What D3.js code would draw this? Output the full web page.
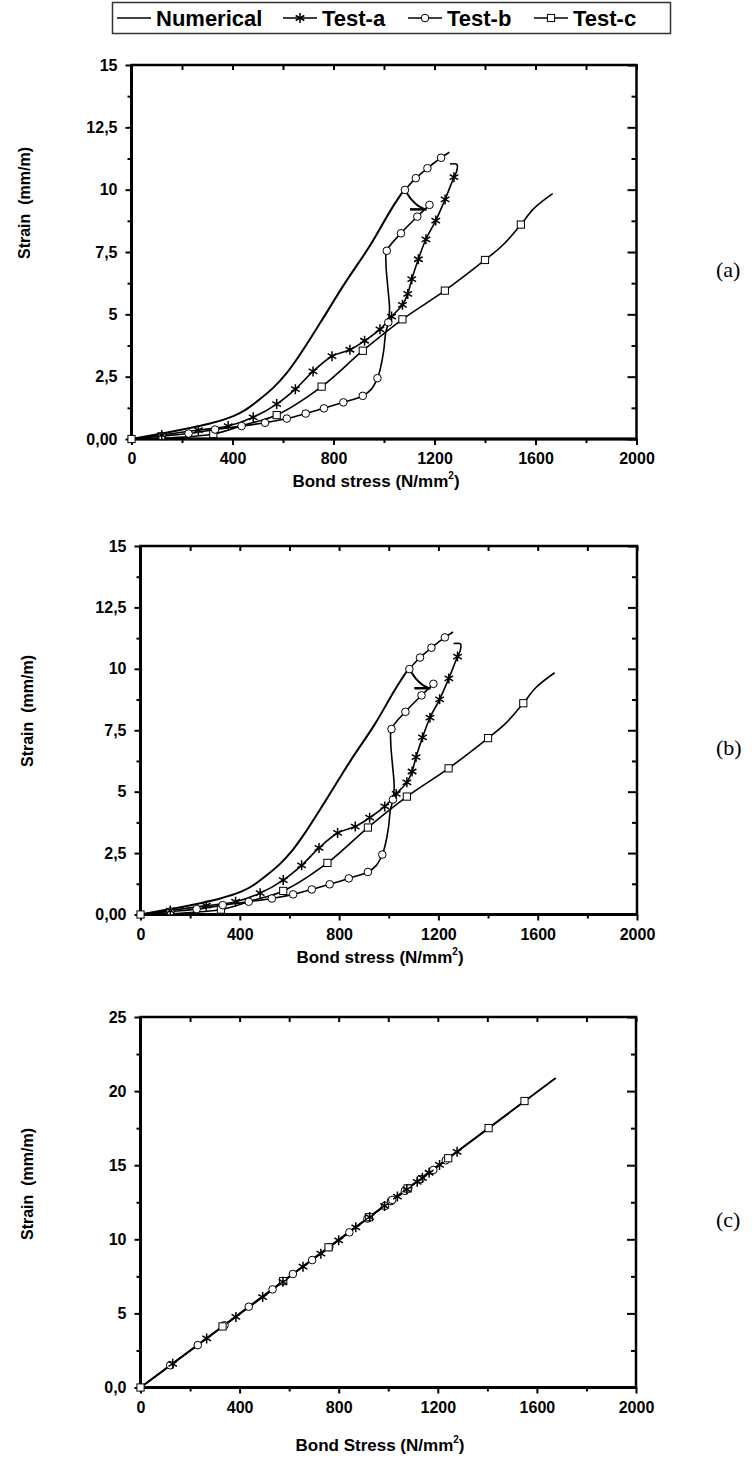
<!DOCTYPE html>
<html><head><meta charset="utf-8">
<script src="https://cdn.jsdelivr.net/npm/d3@7"></script>
<style>body{margin:0;background:#fff}</style>
</head><body>
<svg id="chart" width="755" height="1459"></svg>
<script>
// ---------- tick data ----------
const xTickValues = [0, 400, 800, 1200, 1600, 2000];
const xMinorValues = [200, 600, 1000, 1400, 1800];
const yTickValuesAB = [0, 2.5, 5, 7.5, 10, 12.5, 15];
const yTickLabelsAB = ["0,00", "2,5", "5", "7,5", "10", "12,5", "15"];
const yMinorAB = [1.25, 3.75, 6.25, 8.75, 11.25, 13.75];
const yTickValuesC = [0, 5, 10, 15, 20, 25];
const yTickLabelsC = ["0,0", "5", "10", "15", "20", "25"];
const yMinorC = [2.5, 7.5, 12.5, 17.5, 22.5];

const legendNames = ["Numerical", "Test-a", "Test-b", "Test-c"];
const panelTags = ["(a)", "(b)", "(c)"];

// ---------- panels (a) and (b): [bond stress, strain] ----------
const numericalPath = [[0,0],[120,0.22],[236,0.45],[321,0.65],[403,0.92],[448,1.15],[496,1.5],[561,2.05],[611,2.6],[660,3.28],[745,4.62],[844,6.23],[944,7.75],[1028,9.2],[1077,9.96]];
const arrowCurve = [[1083,9.99],[1110,9.59],[1136,9.35],[1156,9.25]];
const arrowBar = [[1103,9.21],[1169,9.21]];

const testAPath = [[0,0],[120,0.16],[265,0.36],[383,0.52],[482,0.87],[575,1.4],[649,2.0],[719,2.71],[794,3.32],[865,3.58],[923,3.94],[984,4.4],[1030,4.91],[1073,5.38],[1094,5.82],[1110,6.41],[1136,7.21],[1166,8.01],[1205,8.76],[1242,9.61],[1277,10.5],[1288,10.75],[1290,10.99],[1285,11.03],[1261,11.03]];
const testAMarks = [[120,0.16],[265,0.36],[383,0.52],[482,0.87],[575,1.4],[649,2.0],[719,2.71],[794,3.32],[865,3.58],[923,3.94],[984,4.4],[1030,4.91],[1073,5.38],[1094,5.82],[1110,6.41],[1136,7.21],[1166,8.01],[1205,8.76],[1242,9.61],[1277,10.5]];

const testBPath = [[0,0],[120,0.12],[226,0.22],[331,0.38],[436,0.52],[529,0.65],[615,0.82],[690,1.02],[762,1.23],[839,1.47],[916,1.73],[950,2.0],[974,2.44],[985,2.8],[999,3.55],[1006,4.22],[1017,4.68],[1022,5.2],[1014,6.2],[1008,7.0],[1011,7.55],[1067,8.25],[1132,8.92],[1180,9.39],null,[1083,9.99],[1126,10.46],[1172,10.86],[1226,11.28],[1259,11.5]];
const testBMarks = [[120,0.12],[226,0.22],[331,0.38],[436,0.52],[529,0.65],[615,0.82],[690,1.02],[762,1.23],[839,1.47],[916,1.73],[974,2.44],[1017,4.68],[1011,7.55],[1067,8.25],[1132,8.92],[1180,9.39],[1083,9.99],[1126,10.46],[1172,10.86],[1226,11.28]];

const testCPath = [[0,0],[160,0.05],[324,0.2],[443,0.55],[575,0.96],[753,2.1],[916,3.54],[1073,4.8],[1241,5.95],[1400,7.18],[1473,7.8],[1542,8.6],[1593,9.24],[1668,9.84]];
const testCMarks = [[0,0],[324,0.2],[575,0.96],[753,2.1],[916,3.54],[1073,4.8],[1241,5.95],[1400,7.18],[1542,8.6]];

// ---------- panel (c) ----------
const numericalPathC = [[0,0],[1676,20.88]];
const testAMarksC = [[130,1.6],[267,3.31],[385,4.76],[493,6.1],[575,7.13],[656,8.15],[728,9.03],[800,9.93],[869,10.81],[925,11.5],[985,12.25],[1037,12.88],[1075,13.37],[1117,13.88],[1138,14.15],[1165,14.49],[1207,15.02],[1278,15.9]];
const testBMarksC = [[120,1.5],[231,2.86],[339,4.2],[437,5.45],[533,6.62],[615,7.66],[693,8.6],[762,9.47],[843,10.47],[916,11.4],[987,12.25],[1011,12.58],[1016,12.66],[1067,13.27],[1081,13.45],[1131,14.07],[1182,14.68],[1232,15.33]];
const testCMarksC = [[0,0],[331,4.12],[576,7.18],[759,9.46],[922,11.49],[1078,13.43],[1242,15.47],[1405,17.5],[1550,19.33]];

// ---------- drawing ----------
const svg = d3.select("#chart");
const FONT = "'Liberation Sans', Arial, sans-serif";

const asteriskPath = "M0,-5L0,5M-4.3,-2.5L4.3,2.5M-4.3,2.5L4.3,-2.5";

function drawMarker(g, type, x, y) {
  if (type === "a") {
    g.append("path").attr("d", asteriskPath).attr("transform", `translate(${x},${y})`)
      .attr("stroke", "#000").attr("stroke-width", 1.5).attr("fill", "none");
  } else if (type === "b") {
    g.append("circle").attr("cx", x).attr("cy", y).attr("r", 3.8)
      .attr("fill", "#fff").attr("stroke", "#000").attr("stroke-width", 1);
  } else {
    g.append("rect").attr("x", x - 3.6).attr("y", y - 3.6).attr("width", 7.2).attr("height", 7.2)
      .attr("fill", "#fff").attr("stroke", "#000").attr("stroke-width", 1);
  }
}

function drawPanel(cfg) {
  const g = svg.append("g");
  const x = d3.scaleLinear().domain([0, 2000]).range([cfg.left, cfg.right]);
  const y = d3.scaleLinear().domain([0, cfg.yMax]).range([cfg.bottom, cfg.top]);

  const styleAxis = sel => {
    sel.select(".domain").remove();
    sel.selectAll("line").attr("stroke", "#000").attr("stroke-width", 2);
    sel.selectAll("text").attr("font-family", FONT).attr("font-weight", "bold")
      .attr("font-size", 16).attr("fill", "#000");
  };

  g.append("g").attr("transform", `translate(0,${cfg.bottom})`)
    .call(d3.axisBottom(x).tickValues(xTickValues).tickSize(6).tickPadding(8).tickFormat(d => d))
    .call(styleAxis);
  g.append("g").attr("transform", `translate(0,${cfg.bottom})`)
    .call(d3.axisBottom(x).tickValues(xMinorValues).tickSize(4).tickFormat(""))
    .call(styleAxis);
  g.append("g").attr("transform", `translate(0,${cfg.top})`)
    .call(d3.axisTop(x).tickValues(xTickValues.concat(xMinorValues)).tickSize(-5).tickFormat(""))
    .call(styleAxis);
  g.append("g").attr("transform", `translate(${cfg.left},0)`)
    .call(d3.axisLeft(y).tickValues(cfg.yTicks).tickSize(6).tickPadding(8)
      .tickFormat((d, i) => cfg.yLabels[i]))
    .call(styleAxis);
  g.append("g").attr("transform", `translate(${cfg.left},0)`)
    .call(d3.axisLeft(y).tickValues(cfg.yMinor).tickSize(4).tickFormat(""))
    .call(styleAxis);
  g.append("g").attr("transform", `translate(${cfg.right},0)`)
    .call(d3.axisRight(y).tickValues(cfg.yTicks).tickSize(-9).tickFormat(""))
    .call(styleAxis);
  g.append("g").attr("transform", `translate(${cfg.right},0)`)
    .call(d3.axisRight(y).tickValues(cfg.yMinor).tickSize(-5).tickFormat(""))
    .call(styleAxis);

  g.append("rect").attr("x", cfg.left).attr("y", cfg.top)
    .attr("width", cfg.right - cfg.left).attr("height", cfg.bottom - cfg.top)
    .attr("fill", "none").attr("stroke", "#000").attr("stroke-width", 2.5);
  g.append("path").attr("d", `M${cfg.left},${cfg.top}V${cfg.bottom}H${cfg.right}`)
    .attr("fill", "none").attr("stroke", "#000").attr("stroke-width", 3);

  const line = d3.line().defined(d => d !== null).x(d => x(d[0])).y(d => y(d[1]))
    .curve(d3.curveCatmullRom.alpha(0.5));
  const plot = g.append("g");
  cfg.lines.forEach(L => {
    plot.append("path").attr("d", line(L.data)).attr("fill", "none")
      .attr("stroke", "#000").attr("stroke-width", L.w).attr("stroke-linejoin", "round");
  });
  cfg.marks.forEach(M => {
    M.data.forEach(d => drawMarker(plot, M.type, x(d[0]), y(d[1])));
  });

  const xt = g.append("text").attr("x", cfg.xTitleX).attr("y", cfg.bottom + cfg.xTitleDy)
    .attr("text-anchor", "middle").attr("font-family", FONT).attr("font-weight", "bold")
    .attr("font-size", 17).attr("fill", "#000");
  xt.append("tspan").text(cfg.xTitle);
  xt.append("tspan").attr("font-size", 10).attr("dy", -8).text("2");
  xt.append("tspan").attr("dy", 8).text(")");

  g.append("text").attr("transform", `translate(${cfg.yTitleX},${cfg.yTitleY}) rotate(-90)`)
    .attr("text-anchor", "middle").attr("font-family", FONT).attr("font-weight", "bold")
    .attr("font-size", 16).attr("fill", "#000").style("white-space", "pre")
    .text("Strain  (mm/m)");

  g.append("text").attr("x", 716).attr("y", (cfg.top + cfg.bottom) / 2 + 25)
    .attr("font-family", "'Liberation Serif', 'Times New Roman', serif")
    .attr("font-size", 22).attr("fill", "#000").text(cfg.tag);
}

const abLines = [
  {data: numericalPath, w: 2},
  {data: arrowCurve, w: 2},
  {data: arrowBar, w: 2.5},
  {data: testAPath, w: 1.6},
  {data: testBPath, w: 1.6},
  {data: testCPath, w: 1.6}
];
const abMarks = [
  {type: "c", data: testCMarks},
  {type: "b", data: testBMarks},
  {type: "a", data: testAMarks}
];

drawPanel({left: 131.5, right: 636.5, top: 65, bottom: 439, yMax: 15,
  yTicks: yTickValuesAB, yLabels: yTickLabelsAB, yMinor: yMinorAB,
  lines: abLines, marks: abMarks, xTitleDy: 48,
  xTitle: "Bond stress (N/mm", xTitleX: 376, yTitleX: 30, yTitleY: 203, tag: panelTags[0]});

drawPanel({left: 140.5, right: 637, top: 546, bottom: 914.5, yMax: 15,
  yTicks: yTickValuesAB, yLabels: yTickLabelsAB, yMinor: yMinorAB,
  lines: abLines, marks: abMarks, xTitleDy: 48,
  xTitle: "Bond stress (N/mm", xTitleX: 380, yTitleX: 33, yTitleY: 711, tag: panelTags[1]});

drawPanel({left: 140.5, right: 636, top: 1017, bottom: 1387.5, yMax: 25,
  yTicks: yTickValuesC, yLabels: yTickLabelsC, yMinor: yMinorC,
  lines: [{data: numericalPathC, w: 2},
          {data: [[0,0]].concat(testAMarksC), w: 1.4},
          {data: [[0,0]].concat(testBMarksC), w: 1.4},
          {data: testCMarksC, w: 1.4}],
  marks: [{type: "b", data: testBMarksC}, {type: "c", data: testCMarksC}, {type: "a", data: testAMarksC}],
  xTitleDy: 63,
  xTitle: "Bond Stress (N/mm", xTitleX: 380, yTitleX: 33, yTitleY: 1184, tag: panelTags[2]});

// ---------- legend ----------
const lg = svg.append("g");
lg.append("rect").attr("x", 112.5).attr("y", 2.5).attr("width", 558).attr("height", 31)
  .attr("fill", "#fff").attr("stroke", "#333").attr("stroke-width", 1.5);
const legendItems = [
  {name: legendNames[0], type: null, x0: 117},
  {name: legendNames[1], type: "a", x0: 283},
  {name: legendNames[2], type: "b", x0: 408},
  {name: legendNames[3], type: "c", x0: 534}
];
legendItems.forEach(it => {
  const yy = 18;
  lg.append("line").attr("x1", it.x0).attr("x2", it.x0 + 34).attr("y1", yy).attr("y2", yy)
    .attr("stroke", "#000").attr("stroke-width", 1.5);
  if (it.type) drawMarker(lg, it.type, it.x0 + 17, yy);
  lg.append("text").attr("x", it.x0 + 39).attr("y", yy + 8)
    .attr("font-family", FONT).attr("font-weight", "bold").attr("font-size", 22)
    .attr("fill", "#000").text(it.name);
});
</script>
</body></html>
